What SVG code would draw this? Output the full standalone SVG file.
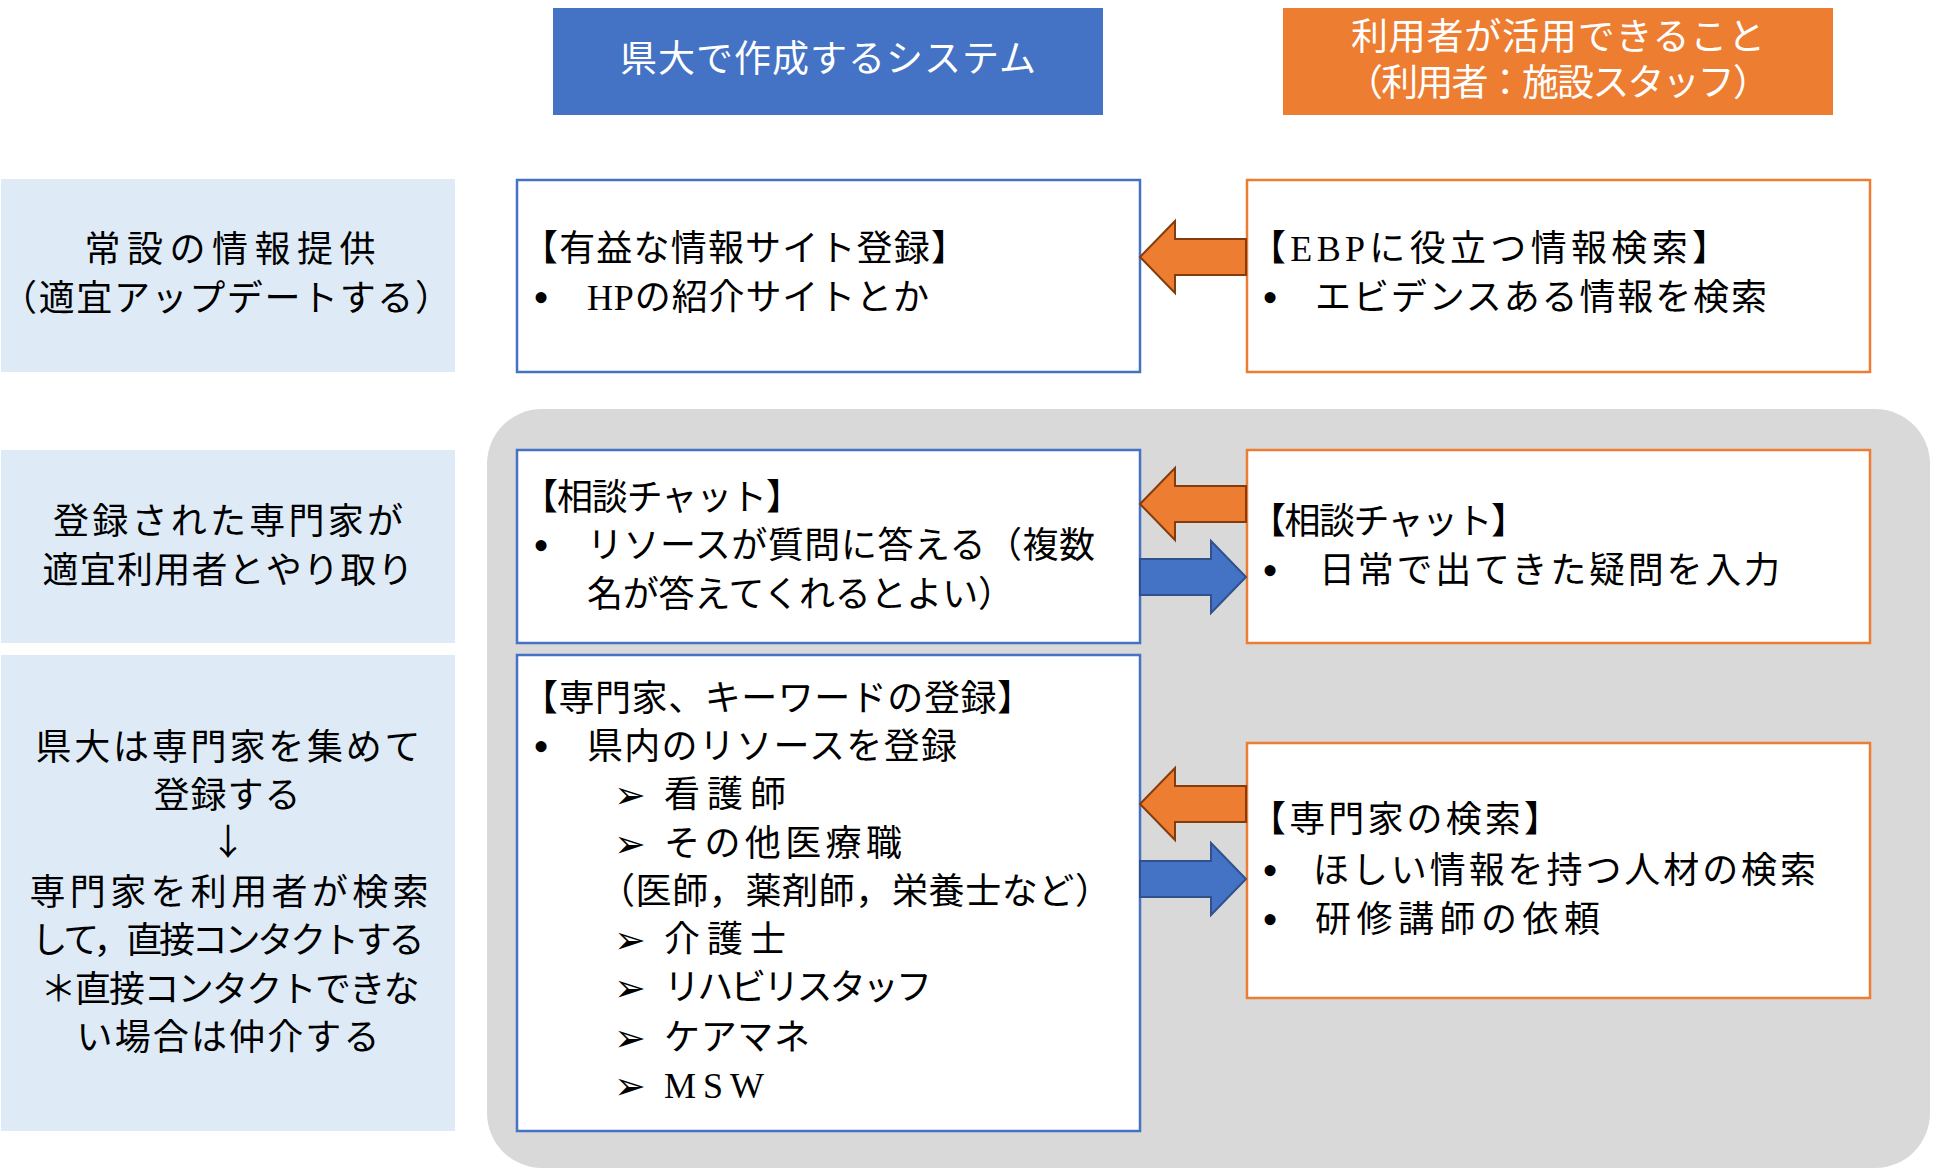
<svg xmlns="http://www.w3.org/2000/svg" width="1933" height="1170" viewBox="0 0 1933 1170">
<style>
text{font-family:"Liberation Serif","Noto Sans CJK JP",serif;font-size:36px;fill:#000;}
.hd{font-size:37px;fill:#fff;text-anchor:middle;}
.c{text-anchor:middle;}
.lb{fill:#DEEBF7;}
.bb{fill:#fff;stroke:#4472C4;stroke-width:2.5;}
.ob{fill:#fff;stroke:#ED7D31;stroke-width:2.5;}
.oa{fill:#ED7D31;stroke:#843C0C;stroke-width:2;stroke-linejoin:miter;}
.ba{fill:#4472C4;stroke:#2F528F;stroke-width:2;stroke-linejoin:miter;}
.sb{font-family:"DejaVu Sans",sans-serif;font-size:38px;text-anchor:middle;}
.bl{text-anchor:middle;font-size:46px;}
.ar{font-family:"Noto Sans CJK JP",sans-serif;text-anchor:middle;}
</style>
<rect id="panel" x="487" y="409" width="1443" height="759" rx="55" fill="#D9D9D9"/>
<g id="header-system">
<rect x="553" y="8" width="550" height="107" fill="#4472C4"/>
<text class="hd" x="828" y="72" textLength="416">県大で作成するシステム</text>
</g>
<g id="header-user">
<rect x="1283" y="8" width="550" height="107" fill="#ED7D31"/>
<text class="hd" x="1558" y="50" textLength="414">利用者が活用できること</text>
<text class="hd" x="1558" y="96" textLength="424">（利用者：施設スタッフ）</text>
</g>
<g id="label-1">
<rect class="lb" x="1" y="179" width="454" height="193"/>
<text class="c" x="230" y="262" textLength="291">常設の情報提供</text>
<text class="c" x="226" y="311" textLength="450">（適宜アップデートする）</text>
</g>
<g id="label-2">
<rect class="lb" x="1" y="450" width="454" height="193"/>
<text class="c" x="228" y="534" textLength="350">登録された専門家が</text>
<text class="c" x="228" y="583" textLength="371">適宜利用者とやり取り</text>
</g>
<g id="label-3">
<rect class="lb" x="1" y="655" width="454" height="476"/>
<text class="c" x="228" y="760" textLength="385">県大は専門家を集めて</text>
<text class="c" x="227" y="808" textLength="147">登録する</text>
<text class="ar" x="228" y="855">↓</text>
<text class="c" x="229" y="905" textLength="399">専門家を利用者が検索</text>
<text class="c" x="228" y="953" textLength="393">して，直接コンタクトする</text>
<text class="c" x="230" y="1002" textLength="379">＊直接コンタクトできな</text>
<text class="c" x="228" y="1050" textLength="303">い場合は仲介する</text>
</g>
<g id="system-info-sites">
<rect class="bb" x="517" y="180" width="623" height="192"/>
<text x="522" y="261" textLength="445">【有益な情報サイト登録】</text>
<text class="bl" x="541" y="313">•</text>
<text x="587" y="310" textLength="342">HPの紹介サイトとか</text>
</g>
<g id="user-ebp-search">
<rect class="ob" x="1247" y="180" width="623" height="192"/>
<text x="1250" y="261" textLength="478">【EBPに役立つ情報検索】</text>
<text class="bl" x="1270" y="313">•</text>
<text x="1315" y="310" textLength="452">エビデンスある情報を検索</text>
</g>
<g id="system-chat">
<rect class="bb" x="517" y="450" width="623" height="193"/>
<text x="522" y="510" textLength="280">【相談チャット】</text>
<text class="bl" x="541" y="561">•</text>
<text x="587" y="558" textLength="508">リソースが質問に答える（複数</text>
<text x="587" y="607" textLength="427">名が答えてくれるとよい）</text>
</g>
<g id="user-chat">
<rect class="ob" x="1247" y="450" width="623" height="193"/>
<text x="1250" y="534" textLength="277">【相談チャット】</text>
<text class="bl" x="1270" y="586">•</text>
<text x="1319" y="583" textLength="461">日常で出てきた疑問を入力</text>
</g>
<g id="system-expert-registry">
<rect class="bb" x="517" y="655" width="623" height="476"/>
<text x="522" y="711" textLength="511">【専門家、キーワードの登録】</text>
<text class="bl" x="541" y="762">•</text>
<text x="587" y="759" textLength="370">県内のリソースを登録</text>
<text class="sb" x="630" y="808">➢</text>
<text x="664" y="807" textLength="122">看護師</text>
<text class="sb" x="630" y="857">➢</text>
<text x="664" y="856" textLength="238">その他医療職</text>
<text x="599" y="904" textLength="512">（医師，薬剤師，栄養士など）</text>
<text class="sb" x="630" y="953">➢</text>
<text x="664" y="952" textLength="122">介護士</text>
<text class="sb" x="630" y="1001">➢</text>
<text x="664" y="1000" textLength="268">リハビリスタッフ</text>
<text class="sb" x="630" y="1051">➢</text>
<text x="664" y="1050" textLength="146">ケアマネ</text>
<text class="sb" x="630" y="1099">➢</text>
<text x="664" y="1098" textLength="100">MSW</text>
</g>
<g id="user-expert-search">
<rect class="ob" x="1247" y="743" width="623" height="255"/>
<text x="1250" y="832" textLength="310">【専門家の検索】</text>
<text class="bl" x="1270" y="886">•</text>
<text x="1313" y="883" textLength="503">ほしい情報を持つ人材の検索</text>
<text class="bl" x="1270" y="935">•</text>
<text x="1315" y="932" textLength="285">研修講師の依頼</text>
</g>
<g id="connectors">
<polygon class="oa" points="1140,257 1175,221 1175,239 1246,239 1246,275 1175,275 1175,293"/>
<polygon class="oa" points="1140,504 1175,468 1175,486 1246,486 1246,522 1175,522 1175,540"/>
<polygon class="ba" points="1140,559 1211,559 1211,541 1246,577 1211,613 1211,595 1140,595"/>
<polygon class="oa" points="1140,804 1175,768 1175,786 1246,786 1246,822 1175,822 1175,840"/>
<polygon class="ba" points="1140,861 1211,861 1211,843 1246,879 1211,915 1211,897 1140,897"/>
</g>
</svg>
